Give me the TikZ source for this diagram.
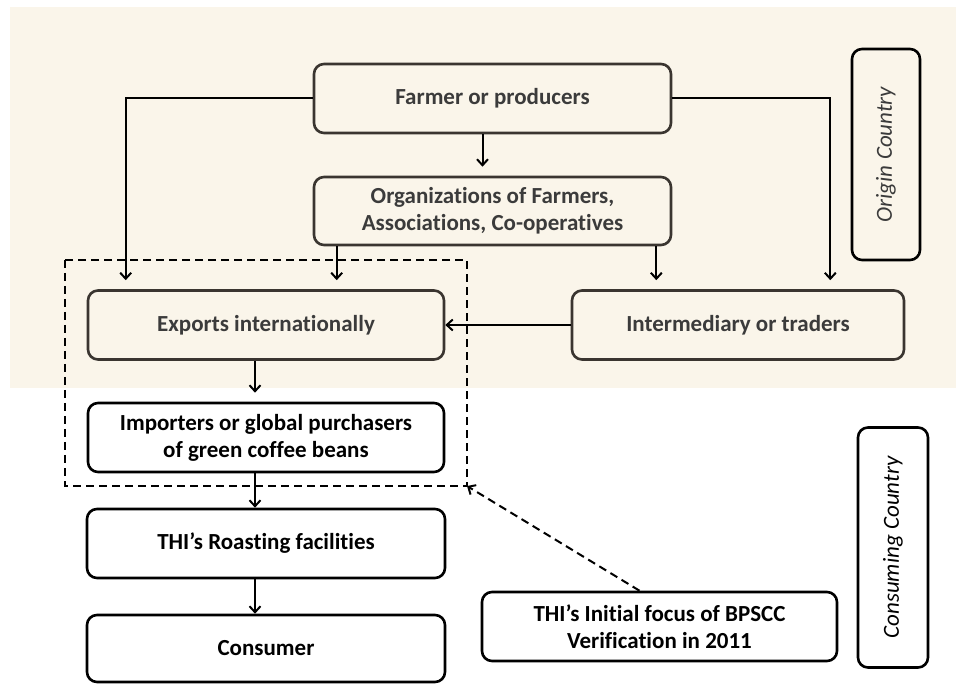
\documentclass[tikz,border=0pt]{standalone}
\usepackage{fontspec}
\setmainfont{Carlito}[Ligatures={NoCommon,NoContextual}]
\usetikzlibrary{arrows.meta}
\definecolor{paper}{RGB}{250,245,234}
\definecolor{umber}{RGB}{58,53,48}
\definecolor{ink}{RGB}{59,59,59}
\begin{document}
\begin{tikzpicture}[x=1pt,y=-1pt,
    box/.style={draw,rounded corners=10pt,line width=2.6pt,align=center,
      font=\fontsize{23}{27}\selectfont\bfseries,inner sep=0pt},
    oldbox/.style={box,draw=umber,text=ink},
    newbox/.style={box,draw=black,fill=white,text=black},
    side/.style={draw,rounded corners=10pt,line width=2.6pt,rotate=90,
      font=\fontsize{23}{27}\selectfont\itshape,inner sep=0pt},
    arr/.style={-{Straight Barb[length=6pt,width=11pt,line width=2pt]},line width=2pt},
    gap/.style={arr,shorten >=9pt}]
    \useasboundingbox (0,0) rectangle (956,684);
    \fill[paper] (10,7) rectangle (956,388);
    % origin country
    \node[oldbox,minimum width=357pt,minimum height=69pt] (farmer) at (492.5,98.5) {Farmer or producers};
    \node[oldbox,minimum width=357pt,minimum height=68pt] (org) at (492.5,211) {Organizations of Farmers,\\Associations, Co-operatives};
    \node[oldbox,minimum width=356pt,minimum height=69pt] (exports) at (266,325) {Exports internationally};
    \node[oldbox,minimum width=332pt,minimum height=69pt] (inter) at (738,325) {Intermediary or traders};
    \node[side,draw=black,text=ink,minimum width=211pt,minimum height=68pt] (origin) at (886,154.5) {Origin Country};
    % consuming country
    \node[newbox,minimum width=356pt,minimum height=69pt] (importers) at (266,437.5) {Importers or global purchasers\\of green coffee beans};
    \node[newbox,minimum width=358pt,minimum height=69pt] (roast) at (266,543.5) {THI’s Roasting facilities};
    \node[newbox,minimum width=358pt,minimum height=67pt] (consumer) at (266,648.5) {Consumer};
    \node[newbox,minimum width=355pt,minimum height=69pt] (focus) at (659.5,626.5) {THI’s Initial focus of BPSCC\\Verification in 2011};
    \node[side,draw=black,text=black,minimum width=240pt,minimum height=70pt] (consuming) at (893,547.5) {Consuming Country};
    % flows
    \draw[gap] (farmer.west) -| ([xshift=39pt]exports.north west);
    \draw[gap] (farmer.east) -| ([xshift=-75pt]inter.north east);
    \draw[gap] ([xshift=-10pt]farmer.south) -- ([xshift=-10pt]org.north);
    \draw[gap] ([xshift=24pt]org.south west) -- ([xshift=24pt]org.south west |- exports.north);
    \draw[gap] ([xshift=-16pt]org.south east) -- ([xshift=-16pt]org.south east |- inter.north);
    \draw[arr] (inter.west) -- (exports.east);
    \draw[gap] ([xshift=-11pt]exports.south) -- ([xshift=-11pt]importers.north);
    \draw[arr] ([xshift=-11pt]importers.south) -- ([xshift=-11pt]roast.north);
    \draw[arr] ([xshift=-11pt]roast.south) -- ([xshift=-11pt]consumer.north);
    % focus of verification
    \coordinate (dashNW) at (65,260);
    \coordinate (dashSE) at (467,486);
    \draw[line width=2pt,dash pattern=on 8pt off 5pt] (dashNW) rectangle (dashSE);
    \draw[arr,dash pattern=on 8pt off 5pt] ([xshift=-20pt]focus.north) -- (dashSE);
  \end{tikzpicture}
\end{document}
